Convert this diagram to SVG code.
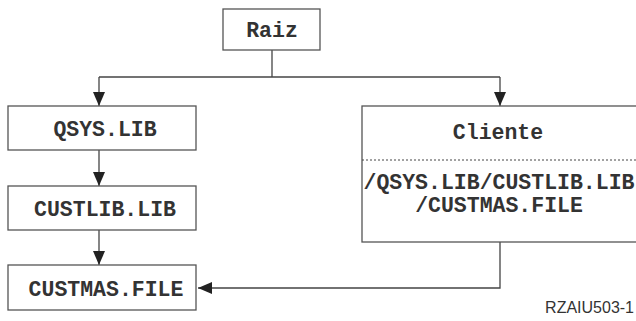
<svg xmlns="http://www.w3.org/2000/svg" width="636" height="321" viewBox="0 0 636 321">
<style>
.box{fill:#fff;stroke:#555;stroke-width:1.3}
.lbl{font-family:"Liberation Mono","Courier New",monospace;font-weight:bold;font-size:21.5px;fill:#333;text-anchor:middle}
.con{fill:none;stroke:#444;stroke-width:1.3}
.dash{stroke:#444;stroke-width:1;stroke-dasharray:2,2}
.fig{font-family:"Liberation Sans",Arial,sans-serif;font-size:16px;fill:#333;text-anchor:end}
</style>
<defs>
<marker id="arr" markerUnits="userSpaceOnUse" markerWidth="14" markerHeight="14" viewBox="0 0 14 12" refX="14" refY="6" orient="auto">
<path d="M0,0 L14,6 L0,12 Z" fill="#222"/>
</marker>
</defs>
<g id="connectors">
<path class="con" d="M272,50 V77"/>
<path class="con" d="M99,77 H500"/>
<path class="con" d="M99,77 V106" marker-end="url(#arr)"/>
<path class="con" d="M500,77 V106" marker-end="url(#arr)"/>
<path class="con" d="M99,150 V186" marker-end="url(#arr)"/>
<path class="con" d="M99,230 V265" marker-end="url(#arr)"/>
<path class="con" d="M500,242 V288 H198" marker-end="url(#arr)"/>
</g>
<g id="raiz">
<rect class="box" x="223" y="9" width="97" height="41"/>
<text class="lbl" x="272" y="37">Raiz</text>
</g>
<g id="qsys">
<rect class="box" x="8" y="106" width="188" height="44"/>
<text class="lbl" x="105" y="136">QSYS.LIB</text>
</g>
<g id="custlib">
<rect class="box" x="8" y="186" width="188" height="44"/>
<text class="lbl" x="105" y="216">CUSTLIB.LIB</text>
</g>
<g id="custmas">
<rect class="box" x="8" y="265" width="188" height="45"/>
<text class="lbl" x="106" y="296">CUSTMAS.FILE</text>
</g>
<g id="cliente">
<rect class="box" x="362" y="106" width="280" height="136"/>
<line class="dash" x1="362" y1="160" x2="636" y2="160"/>
<text class="lbl" x="498" y="139">Cliente</text>
<text class="lbl" x="499" y="189">/QSYS.LIB/CUSTLIB.LIB</text>
<text class="lbl" x="499" y="212">/CUSTMAS.FILE</text>
</g>
<text class="fig" x="634" y="313">RZAIU503-1</text>
</svg>
